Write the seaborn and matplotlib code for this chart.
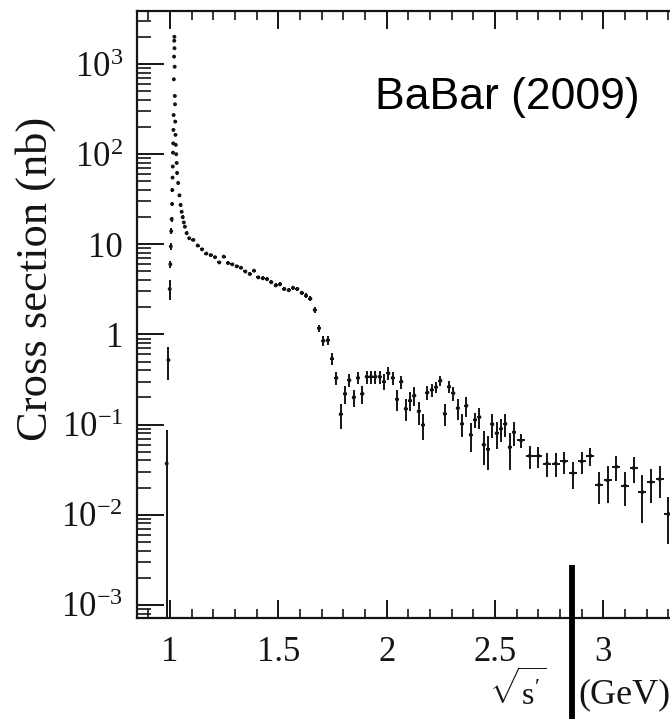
import matplotlib
matplotlib.use("Agg")
import matplotlib.pyplot as plt
from matplotlib.lines import Line2D
from matplotlib.ticker import FixedLocator, LogLocator, MultipleLocator, NullFormatter
import numpy as np
import pandas as pd
import seaborn as sns

# e+e- -> K+K- cross section, BaBar ISR measurement
# phi(1020) resonance region
mass_phi = [0.985, 0.993, 0.999, 1.002, 1.004, 1.006, 1.008, 1.010, 1.011, 1.012,
            1.013, 1.014, 1.015, 1.016, 1.017, 1.018, 1.019, 1.0198, 1.0205, 1.021,
            1.0218, 1.0225, 1.0235, 1.0245, 1.0255, 1.027, 1.029, 1.031, 1.033, 1.038,
            1.044, 1.049, 1.054, 1.059, 1.064, 1.069, 1.077, 1.089]
xsec_phi = [0.037, 0.52, 3.2, 6.0, 9.5, 14, 19, 28, 40, 55,
            73, 104, 132, 186, 272, 678, 1210, 1815, 2010, 1500,
            935, 443, 358, 230, 164, 127, 100, 80, 62, 48,
            35, 27.4, 23, 20, 17.5, 15.7, 13.3, 11.7]
err_phi = [0.05, 0.21, 0.8, 0.6, 0.8, 1.0, 1.2, 1.5, 2.0, 2.5,
           3.0, 4.0, 5.0, 6.0, 8.0, 15, 25, 35, 40, 30,
           20, 12, 10, 7, 5, 4, 3.5, 3, 2.5, 2,
           1.5, 1.2, 1.0, 0.9, 0.8, 0.7, 0.6, 0.5]

# continuum, 20 MeV bins
mass_mid = [1.108, 1.128, 1.148, 1.168, 1.188, 1.208, 1.228, 1.248, 1.268, 1.288,
            1.308, 1.328, 1.348, 1.368, 1.388, 1.408, 1.428, 1.448, 1.468, 1.488,
            1.508, 1.528, 1.548, 1.568, 1.588, 1.608, 1.628, 1.648, 1.668, 1.688,
            1.708, 1.728, 1.748, 1.768, 1.788, 1.808, 1.828, 1.848, 1.868, 1.888,
            1.908, 1.928, 1.948, 1.968, 1.988, 2.008, 2.028, 2.048, 2.068, 2.088,
            2.108, 2.128, 2.148, 2.168, 2.188, 2.208, 2.228, 2.248, 2.268, 2.288,
            2.308, 2.328, 2.348, 2.368, 2.388, 2.408, 2.428, 2.448, 2.468, 2.488,
            2.508, 2.528, 2.548, 2.568, 2.588]
xsec_mid = [11.2, 9.7, 8.8, 7.9, 7.6, 7.2, 6.3, 7.3, 6.2, 6.0,
            5.7, 5.5, 5.0, 4.7, 5.1, 4.3, 4.2, 4.1, 3.8, 3.5,
            3.6, 3.2, 3.1, 3.3, 3.2, 2.9, 2.7, 2.5, 1.87, 1.17,
            0.85, 0.86, 0.54, 0.33, 0.13, 0.22, 0.31, 0.20, 0.33, 0.22,
            0.34, 0.34, 0.34, 0.34, 0.30, 0.37, 0.33, 0.19, 0.30, 0.15,
            0.185, 0.21, 0.14, 0.099, 0.227, 0.243, 0.26, 0.308, 0.132, 0.264,
            0.223, 0.152, 0.102, 0.162, 0.077, 0.113, 0.121, 0.060, 0.053, 0.101,
            0.080, 0.090, 0.102, 0.056, 0.082]
err_mid = [0.4, 0.35, 0.3, 0.3, 0.3, 0.3, 0.28, 0.3, 0.27, 0.26,
           0.25, 0.24, 0.23, 0.22, 0.23, 0.2, 0.2, 0.2, 0.19, 0.18,
           0.18, 0.17, 0.17, 0.17, 0.17, 0.16, 0.15, 0.15, 0.13, 0.11,
           0.1, 0.1, 0.08, 0.055, 0.04, 0.05, 0.05, 0.042, 0.05, 0.05,
           0.058, 0.058, 0.058, 0.058, 0.06, 0.06, 0.055, 0.05, 0.05, 0.04,
           0.045, 0.05, 0.04, 0.032, 0.04, 0.04, 0.035, 0.04, 0.036, 0.04,
           0.04, 0.04, 0.03, 0.04, 0.027, 0.022, 0.031, 0.024, 0.022, 0.03,
           0.027, 0.026, 0.03, 0.025, 0.024]

# high-mass tail, 40 MeV bins
mass_high = [2.62, 2.66, 2.70, 2.74, 2.78, 2.82, 2.86, 2.90, 2.94, 2.98,
             3.02, 3.06, 3.10, 3.14, 3.18, 3.22, 3.26, 3.30]
xsec_high = [0.0666, 0.045, 0.045, 0.037, 0.037, 0.039, 0.029, 0.039, 0.045, 0.0215,
             0.024, 0.034, 0.021, 0.033, 0.0178, 0.023, 0.0248, 0.0102]
err_high = [0.012, 0.013, 0.012, 0.011, 0.011, 0.0105, 0.0095, 0.011, 0.0105, 0.0085,
            0.0105, 0.0105, 0.0086, 0.0103, 0.0098, 0.0095, 0.0095, 0.0055]

halfbin_phi, halfbin_mid, halfbin_high = 0.0012, 0.009, 0.018

df = pd.DataFrame({
    "mass": mass_phi + mass_mid + mass_high,
    "xsec": xsec_phi + xsec_mid + xsec_high,
    "err": err_phi + err_mid + err_high,
    "halfbin": [halfbin_phi] * len(mass_phi) + [halfbin_mid] * len(mass_mid)
               + [halfbin_high] * len(mass_high),
})

sns.set_theme(style="ticks")
plt.rcParams["font.family"] = ["Liberation Serif", "DejaVu Serif"]
plt.rcParams["mathtext.fontset"] = "custom"
plt.rcParams["mathtext.rm"] = "Liberation Serif"
plt.rcParams["mathtext.it"] = "Liberation Serif:italic"

W, H = 670, 719
fig = plt.figure(figsize=(W / 100, H / 100), dpi=100)
# frame: left spine at 137 px, bottom at 618 px, top at 11 px; runs past the right edge
ax = fig.add_axes([137 / W, (H - 618) / H, 563 / W, 607 / H])

ink = "#141414"
ax.errorbar(df["mass"], df["xsec"], yerr=df["err"], xerr=df["halfbin"],
            fmt="none", ecolor=ink, elinewidth=1.4, capsize=0)
sns.scatterplot(data=df, x="mass", y="xsec", ax=ax, color=ink, s=8,
                edgecolor="none", legend=False, zorder=3)

ax.set_yscale("log")
ax.set_xlim(0.848, 3.446)
ax.set_ylim(10 ** -3.146, 10 ** 3.589)

ax.xaxis.set_major_locator(FixedLocator([1.0, 1.5, 2.0, 2.5, 3.0]))
ax.xaxis.set_minor_locator(MultipleLocator(0.1))
ax.set_xticklabels(["1", "1.5", "2", "2.5", "3"])
ax.yaxis.set_major_locator(FixedLocator([1e-3, 1e-2, 1e-1, 1, 10, 1e2, 1e3]))
ax.yaxis.set_minor_locator(LogLocator(base=10, subs=np.arange(2, 10)))
ax.yaxis.set_minor_formatter(NullFormatter())
ax.set_yticklabels([r"$10^{-3}$", r"$10^{-2}$", r"$10^{-1}$", "1", "10",
                    r"$10^{2}$", r"$10^{3}$"])

ax.tick_params(axis="x", which="major", direction="in", length=13, width=1.4,
               top=True, bottom=True, labelsize=25, pad=13, color=ink, labelcolor=ink)
ax.tick_params(axis="x", which="minor", direction="in", length=6.5, width=1.2,
               top=True, bottom=True, color=ink)
ax.tick_params(axis="y", which="major", direction="in", length=19.5, width=1.4,
               left=True, right=False, labelsize=25, pad=10, color=ink, labelcolor=ink)
ax.tick_params(axis="y", which="minor", direction="in", length=10, width=1.2,
               left=True, right=False, color=ink)

for side in ("left", "bottom", "top"):
    ax.spines[side].set_linewidth(1.6)
    ax.spines[side].set_color(ink)
ax.spines["right"].set_visible(False)
ax.set_xlabel("")
ax.set_ylabel("")

fig.text(36 / W, 1 - 279 / H, "Cross section (nb)", rotation=90, ha="center",
         va="center", fontsize=32, color=ink)
fig.text(375 / W, 1 - 109 / H, "BaBar (2009)", family=["Liberation Sans", "DejaVu Sans"],
         fontsize=32, ha="left", va="baseline", color="black")
fig.text(546 / W, 1 - 705 / H, r"$\sqrt{\mathrm{s}'}$", ha="right", va="baseline",
         fontsize=23, color=ink)
fig.text(578 / W, 1 - 703 / H, "(GeV)", ha="left", va="baseline", fontsize=26, color=ink)
fig.add_artist(Line2D([572 / W, 572 / W], [1 - 565 / H, 0.0], transform=fig.transFigure,
                      color="black", linewidth=4.2, solid_capstyle="butt"))

fig.savefig("out.png", dpi=100)
